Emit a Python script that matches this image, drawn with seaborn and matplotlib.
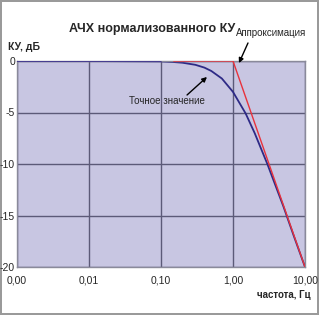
import matplotlib
matplotlib.use('Agg')
import matplotlib.pyplot as plt
import seaborn as sns
import pandas as pd

# Exact response (frequency in Hz, gain in dB)
exact_f = [0.001, 0.01, 0.1, 0.15, 0.2, 0.3, 0.4, 0.5, 0.7, 1.0, 1.5, 2.0, 3.0, 5.0, 7.0, 10.0]
exact_db = [0.0, 0.0, -0.04, -0.1, -0.17, -0.37, -0.64, -0.97, -1.7, -3.0, -5.1, -7.0, -10.0, -14.1, -17.0, -20.0]

# Asymptotic approximation
approx_f = [0.15, 1.0, 10.0]
approx_db = [0.0, 0.0, -20.0]

x_ticks = [0.001, 0.01, 0.1, 1, 10]
x_labels = ['0,00', '0,01', '0,10', '1,00', '10,00']
y_ticks = [0, -5, -10, -15, -20]

exact = pd.DataFrame({'f': exact_f, 'db': exact_db})
approx = pd.DataFrame({'f': approx_f, 'db': approx_db})

sns.set_style('white')
plt.rcParams['font.family'] = ['Liberation Sans', 'DejaVu Sans']
plt.rcParams['axes.unicode_minus'] = False

fig = plt.figure(figsize=(3.19, 3.15), dpi=100)
fig.patch.set_edgecolor('#9a9a9a')
fig.patch.set_linewidth(1.5)
ax = fig.add_axes([17 / 319, 1 - 267 / 315, (305 - 17) / 319, (267 - 61) / 315])
ax.set_facecolor('#c8c6e2')

# dark blue line at 0 from the left edge
ax.plot([0.001, 0.1], [0, 0], color='#3a2f8f', lw=1.2, zorder=3)
sns.lineplot(data=approx, x='f', y='db', ax=ax, color='#e8323c', lw=1.0, zorder=3)
sns.lineplot(data=exact, x='f', y='db', ax=ax, color='#2e2a86', lw=1.3, zorder=2)

ax.set_xscale('log')
ax.set_xlim(0.001, 10)
ax.set_ylim(-20, 0)
ax.set_xticks(x_ticks)
ax.set_xticklabels(x_labels)
ax.set_yticks(y_ticks)
ax.minorticks_off()
ax.grid(True, color='#5c5a78', lw=1.0)
ax.tick_params(length=0, labelsize=7.5)
ax.tick_params(axis='x', pad=6)
ax.tick_params(axis='y', pad=1.5)
for s in ax.spines.values():
    s.set_color('#8a8a9a')
    s.set_linewidth(1.0)
ax.set_xlabel('')
ax.set_ylabel('')

fig.text(0.478, 0.908, 'АЧХ нормализованного КУ', ha='center', va='center',
         fontsize=9, fontweight='bold')
fig.text(0.025, 0.851, 'КУ, дБ', ha='left', va='center', fontsize=7.5, fontweight='bold')
fig.text(0.975, 0.063, 'частота, Гц', ha='right', va='center', fontsize=7, fontweight='bold')

arrow = dict(arrowstyle='-|>', color='black', lw=1.0, mutation_scale=7, shrinkA=0, shrinkB=0)
ax.text(3.37, 2.72, 'Аппроксимация', ha='center', va='center', fontsize=7, clip_on=False)
ax.annotate('', xy=(1.21, -0.2), xytext=(1.615, 1.75), annotation_clip=False, arrowprops=arrow)
ax.text(0.121, -3.88, 'Точное значение', ha='center', va='center', fontsize=7)
ax.annotate('', xy=(0.435, -1.55), xytext=(0.23, -3.3), arrowprops=arrow)

if ax.get_legend():
    ax.get_legend().remove()

fig.savefig('out.png', dpi=100)
